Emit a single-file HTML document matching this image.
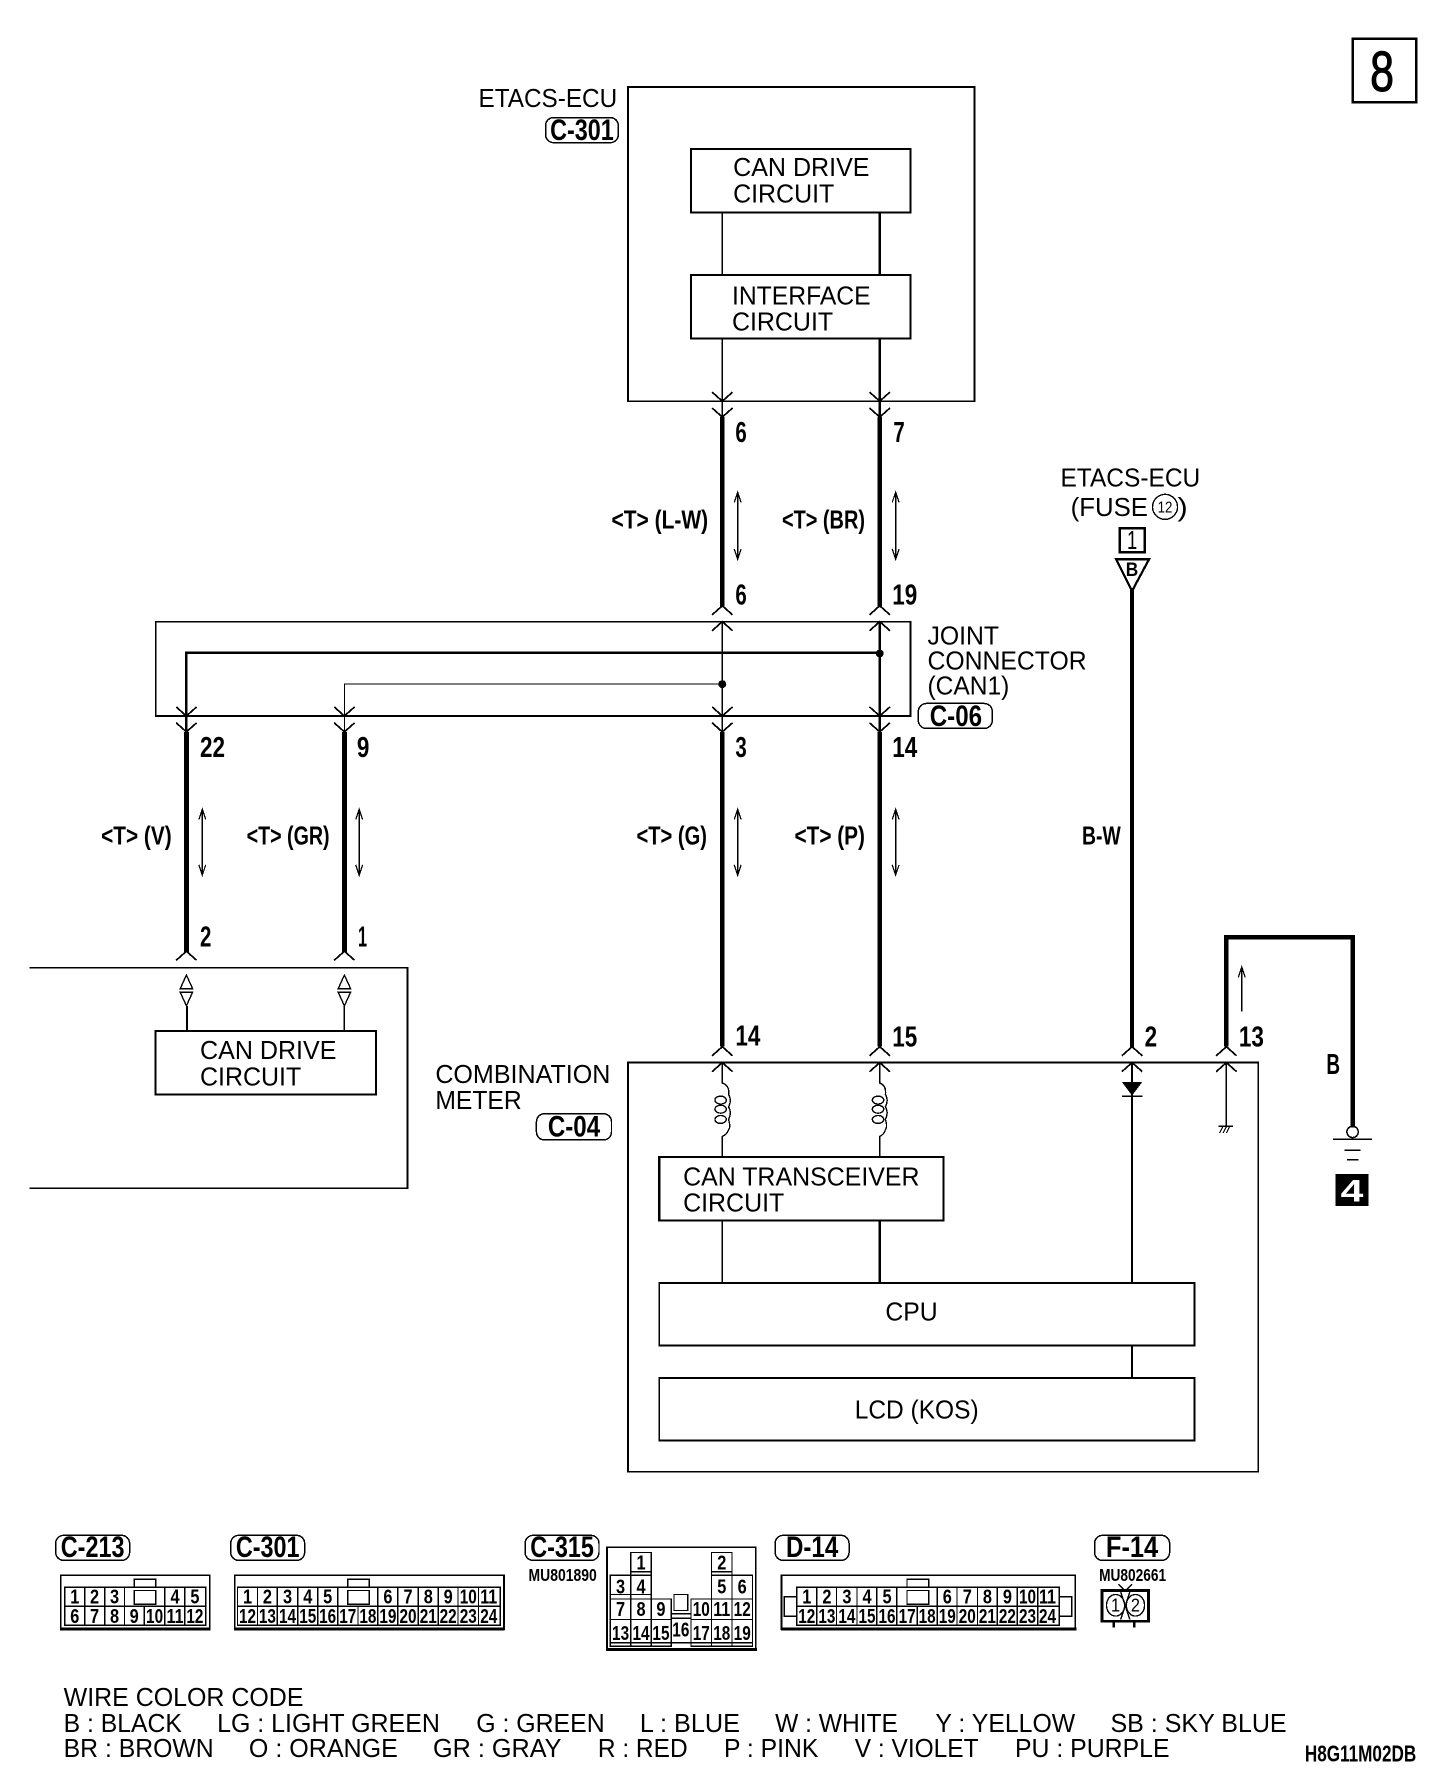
<!DOCTYPE html>
<html><head><meta charset="utf-8"><title>Wiring diagram</title>
<style>
html,body{margin:0;padding:0;background:#fff}
svg{display:block}
text{font-family:"Liberation Sans",sans-serif;fill:#000;font-size:23px}
.b{font-weight:bold}
.n{font-weight:bold;font-size:18px;text-anchor:middle}
.p{font-weight:bold;font-size:25px;text-anchor:middle}
.t{font-weight:bold;font-size:23px;text-anchor:middle}
.g{font-weight:bold;font-size:26px;text-anchor:middle}
.m{font-weight:bold;font-size:15.500px}
.l{fill:none;stroke:#000}
</style></head><body>
<svg width="1456" height="1782" viewBox="0 0 1281 1568" preserveAspectRatio="none" shape-rendering="crispEdges" xmlns="http://www.w3.org/2000/svg">
<defs>
<polyline id="v" points="-9,-8 0,0 9,-8" fill="none" stroke="#000" stroke-width="1.5"/>
<polyline id="a" points="-9,8 0,0 9,8" fill="none" stroke="#000" stroke-width="1.5"/>
</defs>
<rect width="1281" height="1568" fill="#fff"/>

<!-- page number -->
<rect class="l" x="1190" y="34" width="56" height="56" stroke-width="2.200"/>
<text x="1216" y="80" style="font-size:50px;text-anchor:middle;stroke:#000;stroke-width:0.900px" textLength="21" lengthAdjust="spacingAndGlyphs">8</text>

<!-- ETACS-ECU -->
<rect class="l" x="552.500" y="76.500" width="305" height="276.500" stroke-width="1.600"/>
<text x="421" y="94" textLength="122" lengthAdjust="spacingAndGlyphs">ETACS-ECU</text>
<rect class="l" x="480" y="103.500" width="64" height="22" rx="7" stroke-width="1.300"/>
<text x="512" y="123" class="g" textLength="56" lengthAdjust="spacingAndGlyphs">C-301</text>
<rect class="l" x="608" y="131" width="193" height="56" stroke-width="1.800"/>
<text x="645" y="155" textLength="120" lengthAdjust="spacingAndGlyphs">CAN DRIVE</text>
<text x="645" y="178" textLength="89" lengthAdjust="spacingAndGlyphs">CIRCUIT</text>
<rect class="l" x="608" y="242" width="193" height="56" stroke-width="1.800"/>
<text x="644" y="268" textLength="122" lengthAdjust="spacingAndGlyphs">INTERFACE</text>
<text x="644" y="291" textLength="89" lengthAdjust="spacingAndGlyphs">CIRCUIT</text>
<path class="l" stroke-width="1" d="M635.500 187V242M635.500 298V368"/>
<path class="l" stroke-width="1.800" d="M774 187V242M774 298V368"/>
<use href="#v" x="635.500" y="353"/><use href="#v" x="635.500" y="367"/>
<use href="#v" x="774" y="353"/><use href="#v" x="774" y="367"/>

<!-- upper wires -->
<path class="l" stroke-width="4.200" d="M635.500 367V534M774 367V534"/>
<use href="#a" x="635.500" y="533"/><use href="#a" x="635.500" y="547"/>
<use href="#a" x="774" y="533"/><use href="#a" x="774" y="547"/>
<text class="p" x="652" y="389" textLength="10" lengthAdjust="spacingAndGlyphs">6</text>
<text class="p" x="791" y="389" textLength="10" lengthAdjust="spacingAndGlyphs">7</text>
<text class="p" x="652" y="532" textLength="10" lengthAdjust="spacingAndGlyphs">6</text>
<text class="p" x="796" y="532" textLength="22" lengthAdjust="spacingAndGlyphs">19</text>
<text class="t" x="580.500" y="465" textLength="85" lengthAdjust="spacingAndGlyphs">&lt;T&gt; (L-W)</text>
<text class="t" x="724.500" y="465" textLength="73" lengthAdjust="spacingAndGlyphs">&lt;T&gt; (BR)</text>
<path class="l" stroke-width="1.100" d="M649 433V492M646 442L649 433L652 442M646 483L649 492L652 483M788 433V492M785 442L788 433L791 442M785 483L788 492L791 483"/>

<!-- joint connector -->
<rect class="l" x="137" y="547" width="664" height="83" stroke-width="1.500"/>
<path class="l" stroke-width="1.100" d="M635.500 547V644"/>
<path class="l" stroke-width="1.800" d="M774 547V644"/>
<path class="l" stroke-width="2.200" d="M774 574.500H164V644"/>
<path class="l" stroke-width="1" d="M635.500 602H303V644"/>
<circle cx="774" cy="575" r="3.500"/><circle cx="635.500" cy="602" r="3.500"/>
<use href="#v" x="164" y="630"/><use href="#v" x="164" y="644"/>
<use href="#v" x="303" y="630"/><use href="#v" x="303" y="644"/>
<use href="#v" x="635.500" y="630"/><use href="#v" x="635.500" y="644"/>
<use href="#v" x="774" y="630"/><use href="#v" x="774" y="644"/>
<text x="816" y="567" textLength="63" lengthAdjust="spacingAndGlyphs">JOINT</text>
<text x="816" y="589" textLength="140" lengthAdjust="spacingAndGlyphs">CONNECTOR</text>
<text x="816" y="611" textLength="72" lengthAdjust="spacingAndGlyphs">(CAN1)</text>
<rect class="l" x="808" y="619" width="65" height="22" rx="7" stroke-width="1.300"/>
<text x="841" y="639" class="g" textLength="46" lengthAdjust="spacingAndGlyphs">C-06</text>

<!-- fuse -->
<text x="933" y="428" textLength="123" lengthAdjust="spacingAndGlyphs">ETACS-ECU</text>
<text x="942" y="454" textLength="68" lengthAdjust="spacingAndGlyphs">(FUSE</text>
<circle class="l" cx="1025" cy="446" r="11" stroke-width="1.200"/>
<text x="1025" y="451" style="font-size:14px;text-anchor:middle" textLength="13" lengthAdjust="spacingAndGlyphs">12</text>
<text x="1036" y="454" textLength="9" lengthAdjust="spacingAndGlyphs">)</text>
<rect class="l" x="985" y="465" width="22" height="21" stroke-width="2.200"/>
<text x="996" y="483" style="font-size:23px;text-anchor:middle" textLength="9" lengthAdjust="spacingAndGlyphs">1</text>
<path class="l" stroke-width="2" d="M982 492H1011L996 520Z"/>
<text x="996" y="507" class="b" style="font-size:17px;text-anchor:middle" textLength="11" lengthAdjust="spacingAndGlyphs">B</text>
<path class="l" stroke-width="3.600" d="M996 519V922"/>
<text class="t" x="969" y="743" textLength="34" lengthAdjust="spacingAndGlyphs">B-W</text>

<!-- middle wires -->
<path class="l" stroke-width="4.200" d="M164 644V838M303 644V838M635.500 644V921M774 644V921"/>
<text class="p" x="187" y="666" textLength="22" lengthAdjust="spacingAndGlyphs">22</text>
<text class="p" x="319.500" y="666" textLength="11" lengthAdjust="spacingAndGlyphs">9</text>
<text class="p" x="652" y="666" textLength="10" lengthAdjust="spacingAndGlyphs">3</text>
<text class="p" x="796" y="666" textLength="22" lengthAdjust="spacingAndGlyphs">14</text>
<text class="t" x="120" y="743" textLength="62" lengthAdjust="spacingAndGlyphs">&lt;T&gt; (V)</text>
<text class="t" x="253.500" y="743" textLength="73" lengthAdjust="spacingAndGlyphs">&lt;T&gt; (GR)</text>
<text class="t" x="591" y="743" textLength="62" lengthAdjust="spacingAndGlyphs">&lt;T&gt; (G)</text>
<text class="t" x="730" y="743" textLength="62" lengthAdjust="spacingAndGlyphs">&lt;T&gt; (P)</text>
<path class="l" stroke-width="1.100" d="M178 712V770M175 721L178 712L181 721M175 761L178 770L181 761M316 712V770M313 721L316 712L319 721M313 761L316 770L319 761M649 712V770M646 721L649 712L652 721M646 761L649 770L652 761M788 712V770M785 721L788 712L791 721M785 761L788 770L791 761"/>
<text class="p" x="181" y="833" textLength="10" lengthAdjust="spacingAndGlyphs">2</text>
<text class="p" x="319" y="833" textLength="8" lengthAdjust="spacingAndGlyphs">1</text>
<use href="#a" x="164" y="837"/><use href="#a" x="303" y="837"/>

<!-- left unit -->
<path class="l" stroke-width="1.600" d="M26 851.500H358.500V1045.500H26"/>
<path class="l" stroke-width="1.200" d="M164 858L158.500 870H169.500ZM158.500 873H169.500L164 885ZM303 858L297.500 870H308.500ZM297.500 873H308.500L303 885Z"/>
<path class="l" stroke-width="1.800" d="M164.500 885V907"/>
<path class="l" stroke-width="1.200" d="M303 885V907"/>
<rect class="l" x="137" y="907" width="194" height="56" stroke-width="1.800"/>
<text x="176" y="932" textLength="120" lengthAdjust="spacingAndGlyphs">CAN DRIVE</text>
<text x="176" y="955" textLength="89" lengthAdjust="spacingAndGlyphs">CIRCUIT</text>

<!-- combination meter -->
<rect class="l" x="552.500" y="935" width="554.500" height="360" stroke-width="1.600"/>
<text x="383" y="953" textLength="154" lengthAdjust="spacingAndGlyphs">COMBINATION</text>
<text x="383" y="976" textLength="76" lengthAdjust="spacingAndGlyphs">METER</text>
<rect class="l" x="472" y="980" width="66" height="23" rx="7" stroke-width="1.300"/>
<text x="505" y="1000" class="g" textLength="46" lengthAdjust="spacingAndGlyphs">C-04</text>
<text class="p" x="658" y="920" textLength="22" lengthAdjust="spacingAndGlyphs">14</text>
<text class="p" x="796" y="921" textLength="22" lengthAdjust="spacingAndGlyphs">15</text>
<text class="p" x="1012.500" y="921" textLength="11" lengthAdjust="spacingAndGlyphs">2</text>
<text class="p" x="1101" y="921" textLength="22" lengthAdjust="spacingAndGlyphs">13</text>
<use href="#a" x="635.500" y="921"/><use href="#a" x="635.500" y="935"/>
<use href="#a" x="774" y="921"/><use href="#a" x="774" y="935"/>
<use href="#a" x="996" y="921"/><use href="#a" x="996" y="935"/>
<use href="#a" x="1079" y="921"/><use href="#a" x="1079" y="935"/>

<!-- coils -->
<g stroke-width="1.200" fill="none">
<path class="l" d="M635.500 935V953Q642 955 641 963Q644 968 641 974Q644 979 641 985Q643 992 641 994Q640 998 635.500 1000V1018"/>
<ellipse class="l" cx="634" cy="968" rx="5" ry="3.500"/><ellipse class="l" cx="634" cy="976" rx="5" ry="3.500"/><ellipse class="l" cx="634" cy="985" rx="5" ry="3.500"/>
<path class="l" d="M774 935V953Q780 955 779 963Q782 968 779 974Q782 979 779 985Q781 992 779 994Q778 998 774 1000V1018"/>
<ellipse class="l" cx="772.500" cy="968" rx="5" ry="3.500"/><ellipse class="l" cx="772.500" cy="976" rx="5" ry="3.500"/><ellipse class="l" cx="772.500" cy="985" rx="5" ry="3.500"/>
</g>
<!-- diode + ground -->
<path d="M987 952H1005L996 964Z"/>
<path class="l" stroke-width="1.300" d="M987 964.500H1005M1079 935V992"/>
<path class="l" stroke-width="1.800" d="M996 935V1129"/>
<path class="l" stroke-width="1" d="M1072 991H1085M1073 997L1076 991M1076 997L1079 991M1079 997L1082 991"/>
<path class="l" stroke-width="4" stroke-linejoin="miter" d="M1079 921V824.500H1190V992"/>
<path class="l" stroke-width="1.100" d="M1092.500 851V890M1089.500 860L1092.500 851L1095.500 860"/>
<text class="p" x="1173" y="945" textLength="12" lengthAdjust="spacingAndGlyphs">B</text>
<circle class="l" cx="1190" cy="996" r="5" stroke-width="1.300"/>
<path class="l" stroke-width="1.500" d="M1173 1002.500H1207M1183 1012H1197M1185 1020.500H1195"/>
<rect x="1175" y="1033" width="29" height="28"/>
<text x="1189.500" y="1057" class="b" style="fill:#fff;font-size:28px;text-anchor:middle" textLength="20" lengthAdjust="spacingAndGlyphs">4</text>

<!-- CAN transceiver / CPU / LCD -->
<rect class="l" x="580" y="1018" width="250" height="56" stroke-width="1.800"/>
<text x="601" y="1043" textLength="208" lengthAdjust="spacingAndGlyphs">CAN TRANSCEIVER</text>
<text x="601" y="1066" textLength="89" lengthAdjust="spacingAndGlyphs">CIRCUIT</text>
<path class="l" stroke-width="1.200" d="M635.500 1074V1129"/>
<path class="l" stroke-width="1.800" d="M774 1074V1129M996 1184V1212"/>
<rect class="l" x="580" y="1129" width="471" height="55" stroke-width="1.600"/>
<text x="779" y="1162" textLength="46" lengthAdjust="spacingAndGlyphs">CPU</text>
<rect class="l" x="580" y="1212.500" width="471" height="55" stroke-width="1.600"/>
<text x="752" y="1248" textLength="109" lengthAdjust="spacingAndGlyphs">LCD (KOS)</text>

<!-- connector tags -->
<rect class="l" x="49" y="1351" width="65" height="22" rx="7" stroke-width="1.300"/>
<text x="81.500" y="1370" class="g" textLength="56" lengthAdjust="spacingAndGlyphs">C-213</text>
<rect class="l" x="203" y="1351" width="65" height="22" rx="7" stroke-width="1.300"/>
<text x="235.500" y="1370" class="g" textLength="56" lengthAdjust="spacingAndGlyphs">C-301</text>
<rect class="l" x="462" y="1351" width="65" height="22" rx="7" stroke-width="1.300"/>
<text x="494.500" y="1370" class="g" textLength="56" lengthAdjust="spacingAndGlyphs">C-315</text>
<rect class="l" x="682" y="1351" width="65" height="22" rx="7" stroke-width="1.300"/>
<text x="714.500" y="1370" class="g" textLength="46" lengthAdjust="spacingAndGlyphs">D-14</text>
<rect class="l" x="963" y="1351" width="66" height="22" rx="7" stroke-width="1.300"/>
<text x="996" y="1370" class="g" textLength="46" lengthAdjust="spacingAndGlyphs">F-14</text>
<text x="465" y="1391" class="m" textLength="60" lengthAdjust="spacingAndGlyphs">MU801890</text>
<text x="967" y="1391" class="m" textLength="59" lengthAdjust="spacingAndGlyphs">MU802661</text>

<!-- C-213 -->
<rect class="l" x="53.500" y="1386" width="131" height="47.500" stroke-width="1.500"/>
<path class="l" stroke-width="2.600" d="M53 1433.500H185"/>
<path class="l" stroke-width="1.200" d="M57 1396.500H181V1430H57ZM57 1413.500H181M74.500 1396.500V1430M92 1396.500V1430M109.500 1396.500V1430M127 1413.500V1430M145 1396.500V1430M162.500 1396.500V1430M118 1396.500V1389.500H137V1396.500"/>
<rect class="l" x="118" y="1399.500" width="19" height="12" stroke-width="1.200"/>
<g>
<text class="n" x="65.800" y="1411" textLength="8" lengthAdjust="spacingAndGlyphs">1</text><text class="n" x="83.200" y="1411" textLength="8" lengthAdjust="spacingAndGlyphs">2</text><text class="n" x="100.800" y="1411" textLength="8" lengthAdjust="spacingAndGlyphs">3</text><text class="n" x="154" y="1411" textLength="8" lengthAdjust="spacingAndGlyphs">4</text><text class="n" x="171.500" y="1411" textLength="8" lengthAdjust="spacingAndGlyphs">5</text>
<text class="n" x="65.800" y="1428" textLength="8" lengthAdjust="spacingAndGlyphs">6</text><text class="n" x="83.200" y="1428" textLength="8" lengthAdjust="spacingAndGlyphs">7</text><text class="n" x="100.800" y="1428" textLength="8" lengthAdjust="spacingAndGlyphs">8</text><text class="n" x="118" y="1428" textLength="8" lengthAdjust="spacingAndGlyphs">9</text>
<text class="n" x="136" y="1428" textLength="15" lengthAdjust="spacingAndGlyphs">10</text><text class="n" x="154" y="1428" textLength="15" lengthAdjust="spacingAndGlyphs">11</text><text class="n" x="171.500" y="1428" textLength="15" lengthAdjust="spacingAndGlyphs">12</text>
</g>

<!-- C-301 -->
<rect class="l" x="206.500" y="1386" width="237" height="47.500" stroke-width="1.500"/>
<path class="l" stroke-width="2.600" d="M206 1433.500H444"/>
<path class="l" stroke-width="1.200" d="M209 1396.500H440V1430H209ZM209 1413.500H440M226.500 1396.500V1430M244 1396.500V1430M262 1396.500V1430M279.500 1396.500V1430M297 1396.500V1430M315 1413.500V1430M332.500 1396.500V1430M350 1396.500V1430M368 1396.500V1430M385.500 1396.500V1430M403 1396.500V1430M421 1396.500V1430M306 1396.500V1389.500H325V1396.500"/>
<rect class="l" x="306" y="1399.500" width="19" height="12" stroke-width="1.200"/>
<g>
<text class="n" x="217.800" y="1411" textLength="8" lengthAdjust="spacingAndGlyphs">1</text><text class="n" x="235.300" y="1411" textLength="8" lengthAdjust="spacingAndGlyphs">2</text><text class="n" x="253" y="1411" textLength="8" lengthAdjust="spacingAndGlyphs">3</text><text class="n" x="270.800" y="1411" textLength="8" lengthAdjust="spacingAndGlyphs">4</text><text class="n" x="288.300" y="1411" textLength="8" lengthAdjust="spacingAndGlyphs">5</text>
<text class="n" x="341.300" y="1411" textLength="8" lengthAdjust="spacingAndGlyphs">6</text><text class="n" x="359" y="1411" textLength="8" lengthAdjust="spacingAndGlyphs">7</text><text class="n" x="376.800" y="1411" textLength="8" lengthAdjust="spacingAndGlyphs">8</text><text class="n" x="394.300" y="1411" textLength="8" lengthAdjust="spacingAndGlyphs">9</text>
<text class="n" x="412" y="1411" textLength="15" lengthAdjust="spacingAndGlyphs">10</text><text class="n" x="430" y="1411" textLength="15" lengthAdjust="spacingAndGlyphs">11</text>
<text class="n" x="217.800" y="1428" textLength="15" lengthAdjust="spacingAndGlyphs">12</text><text class="n" x="235.300" y="1428" textLength="15" lengthAdjust="spacingAndGlyphs">13</text><text class="n" x="253" y="1428" textLength="15" lengthAdjust="spacingAndGlyphs">14</text><text class="n" x="270.800" y="1428" textLength="15" lengthAdjust="spacingAndGlyphs">15</text><text class="n" x="288.300" y="1428" textLength="15" lengthAdjust="spacingAndGlyphs">16</text><text class="n" x="306" y="1428" textLength="15" lengthAdjust="spacingAndGlyphs">17</text><text class="n" x="323.700" y="1428" textLength="15" lengthAdjust="spacingAndGlyphs">18</text><text class="n" x="341.300" y="1428" textLength="15" lengthAdjust="spacingAndGlyphs">19</text><text class="n" x="359" y="1428" textLength="15" lengthAdjust="spacingAndGlyphs">20</text><text class="n" x="376.800" y="1428" textLength="15" lengthAdjust="spacingAndGlyphs">21</text><text class="n" x="394.300" y="1428" textLength="15" lengthAdjust="spacingAndGlyphs">22</text><text class="n" x="412" y="1428" textLength="15" lengthAdjust="spacingAndGlyphs">23</text><text class="n" x="430" y="1428" textLength="15" lengthAdjust="spacingAndGlyphs">24</text>
</g>

<!-- C-315 -->
<rect class="l" x="534" y="1361.500" width="131" height="90" stroke-width="1.500"/>
<path class="l" stroke-width="2.600" d="M533 1451.500H666"/>
<path class="l" stroke-width="1.100" d="M555 1366H573V1386H555ZM555 1383H573M537 1386H573V1407H537ZM537 1403H573M555 1386V1407M537 1407H590.500V1448.500H537ZM537 1425H590.500M537 1445.500H662M555 1407V1448.500M573 1407V1448.500M590.500 1425V1448.500"/>
<path class="l" stroke-width="1.100" d="M626 1366H644V1386H626ZM626 1383H644M626 1386H662V1407H626ZM644 1386V1407M608 1407H662V1448.500H608ZM608 1425H662M626 1407V1448.500M644 1407V1448.500M590.500 1420H608V1448.500M608 1424H590.500"/>
<rect class="l" x="593" y="1403" width="12" height="14" stroke-width="1.100"/>
<g>
<text class="n" x="564" y="1381" textLength="8" lengthAdjust="spacingAndGlyphs">1</text><text class="n" x="635" y="1381" textLength="8" lengthAdjust="spacingAndGlyphs">2</text>
<text class="n" x="546" y="1402" textLength="8" lengthAdjust="spacingAndGlyphs">3</text><text class="n" x="564" y="1402" textLength="8" lengthAdjust="spacingAndGlyphs">4</text><text class="n" x="635" y="1402" textLength="8" lengthAdjust="spacingAndGlyphs">5</text><text class="n" x="653" y="1402" textLength="8" lengthAdjust="spacingAndGlyphs">6</text>
<text class="n" x="546" y="1422" textLength="8" lengthAdjust="spacingAndGlyphs">7</text><text class="n" x="564" y="1422" textLength="8" lengthAdjust="spacingAndGlyphs">8</text><text class="n" x="581.500" y="1422" textLength="8" lengthAdjust="spacingAndGlyphs">9</text>
<text class="n" x="617" y="1422" textLength="15" lengthAdjust="spacingAndGlyphs">10</text><text class="n" x="635" y="1422" textLength="15" lengthAdjust="spacingAndGlyphs">11</text><text class="n" x="653" y="1422" textLength="15" lengthAdjust="spacingAndGlyphs">12</text>
<text class="n" x="546" y="1443" textLength="15" lengthAdjust="spacingAndGlyphs">13</text><text class="n" x="564" y="1443" textLength="15" lengthAdjust="spacingAndGlyphs">14</text><text class="n" x="581.500" y="1443" textLength="15" lengthAdjust="spacingAndGlyphs">15</text><text class="n" x="599" y="1440" textLength="15" lengthAdjust="spacingAndGlyphs">16</text><text class="n" x="617" y="1443" textLength="15" lengthAdjust="spacingAndGlyphs">17</text><text class="n" x="635" y="1443" textLength="15" lengthAdjust="spacingAndGlyphs">18</text><text class="n" x="653" y="1443" textLength="15" lengthAdjust="spacingAndGlyphs">19</text>
</g>

<!-- D-14 -->
<rect class="l" x="687.500" y="1386" width="258.500" height="47.500" stroke-width="1.500"/>
<path class="l" stroke-width="2.600" d="M687 1433.500H947"/>
<path class="l" stroke-width="1.200" d="M701 1396.500H932V1430H701ZM701 1413.500H932M718.500 1396.500V1430M736 1396.500V1430M754 1396.500V1430M771.500 1396.500V1430M789 1396.500V1430M807 1413.500V1430M824.500 1396.500V1430M842 1396.500V1430M860 1396.500V1430M877.500 1396.500V1430M895 1396.500V1430M913 1396.500V1430M798 1396.500V1389.500H817V1396.500M701 1405H690V1422H701M932 1405H943V1422H932"/>
<rect class="l" x="798" y="1399.500" width="19" height="12" stroke-width="1.200"/>
<g>
<text class="n" x="709.800" y="1411" textLength="8" lengthAdjust="spacingAndGlyphs">1</text><text class="n" x="727.500" y="1411" textLength="8" lengthAdjust="spacingAndGlyphs">2</text><text class="n" x="745.100" y="1411" textLength="8" lengthAdjust="spacingAndGlyphs">3</text><text class="n" x="762.800" y="1411" textLength="8" lengthAdjust="spacingAndGlyphs">4</text><text class="n" x="780.400" y="1411" textLength="8" lengthAdjust="spacingAndGlyphs">5</text>
<text class="n" x="833.400" y="1411" textLength="8" lengthAdjust="spacingAndGlyphs">6</text><text class="n" x="851" y="1411" textLength="8" lengthAdjust="spacingAndGlyphs">7</text><text class="n" x="868.700" y="1411" textLength="8" lengthAdjust="spacingAndGlyphs">8</text><text class="n" x="886.300" y="1411" textLength="8" lengthAdjust="spacingAndGlyphs">9</text>
<text class="n" x="904" y="1411" textLength="15" lengthAdjust="spacingAndGlyphs">10</text><text class="n" x="921.600" y="1411" textLength="15" lengthAdjust="spacingAndGlyphs">11</text>
<text class="n" x="709.800" y="1428" textLength="15" lengthAdjust="spacingAndGlyphs">12</text><text class="n" x="727.500" y="1428" textLength="15" lengthAdjust="spacingAndGlyphs">13</text><text class="n" x="745.100" y="1428" textLength="15" lengthAdjust="spacingAndGlyphs">14</text><text class="n" x="762.800" y="1428" textLength="15" lengthAdjust="spacingAndGlyphs">15</text><text class="n" x="780.400" y="1428" textLength="15" lengthAdjust="spacingAndGlyphs">16</text><text class="n" x="798.100" y="1428" textLength="15" lengthAdjust="spacingAndGlyphs">17</text><text class="n" x="815.700" y="1428" textLength="15" lengthAdjust="spacingAndGlyphs">18</text><text class="n" x="833.400" y="1428" textLength="15" lengthAdjust="spacingAndGlyphs">19</text><text class="n" x="851" y="1428" textLength="15" lengthAdjust="spacingAndGlyphs">20</text><text class="n" x="868.700" y="1428" textLength="15" lengthAdjust="spacingAndGlyphs">21</text><text class="n" x="886.300" y="1428" textLength="15" lengthAdjust="spacingAndGlyphs">22</text><text class="n" x="904" y="1428" textLength="15" lengthAdjust="spacingAndGlyphs">23</text><text class="n" x="921.600" y="1428" textLength="15" lengthAdjust="spacingAndGlyphs">24</text>
</g>

<!-- F-14 -->
<rect class="l" x="969.500" y="1399.500" width="41" height="27" stroke-width="2.400"/>
<ellipse class="l" cx="981.500" cy="1412.500" rx="8" ry="9.500" stroke-width="1.200"/>
<ellipse class="l" cx="999" cy="1412.500" rx="8" ry="9.500" stroke-width="1.200"/>
<path class="l" stroke-width="1.200" d="M984 1394L990 1400L996 1394M986 1401L994 1425M994 1401L986 1425"/>
<path class="l" stroke-width="2" d="M980 1426.500V1432M998 1426.500V1432"/>
<text x="981.500" y="1418" style="font-size:16px;text-anchor:middle" textLength="8" lengthAdjust="spacingAndGlyphs">1</text><text x="999" y="1418" style="font-size:16px;text-anchor:middle" textLength="8" lengthAdjust="spacingAndGlyphs">2</text>

<!-- legend -->
<text x="56" y="1501" textLength="211" lengthAdjust="spacingAndGlyphs">WIRE COLOR CODE</text>
<text x="56" y="1524" textLength="104" lengthAdjust="spacingAndGlyphs">B : BLACK</text>
<text x="191" y="1524" textLength="196" lengthAdjust="spacingAndGlyphs">LG : LIGHT GREEN</text>
<text x="419" y="1524" textLength="113" lengthAdjust="spacingAndGlyphs">G : GREEN</text>
<text x="563" y="1524" textLength="88" lengthAdjust="spacingAndGlyphs">L : BLUE</text>
<text x="682" y="1524" textLength="108" lengthAdjust="spacingAndGlyphs">W : WHITE</text>
<text x="823" y="1524" textLength="123" lengthAdjust="spacingAndGlyphs">Y : YELLOW</text>
<text x="977" y="1524" textLength="155" lengthAdjust="spacingAndGlyphs">SB : SKY BLUE</text>
<text x="56" y="1546" textLength="132" lengthAdjust="spacingAndGlyphs">BR : BROWN</text>
<text x="219" y="1546" textLength="131" lengthAdjust="spacingAndGlyphs">O : ORANGE</text>
<text x="381" y="1546" textLength="113" lengthAdjust="spacingAndGlyphs">GR : GRAY</text>
<text x="526" y="1546" textLength="79" lengthAdjust="spacingAndGlyphs">R : RED</text>
<text x="637" y="1546" textLength="83" lengthAdjust="spacingAndGlyphs">P : PINK</text>
<text x="752" y="1546" textLength="109" lengthAdjust="spacingAndGlyphs">V : VIOLET</text>
<text x="893" y="1546" textLength="136" lengthAdjust="spacingAndGlyphs">PU : PURPLE</text>
<text x="1148" y="1550" class="b" style="font-size:20px" textLength="98" lengthAdjust="spacingAndGlyphs">H8G11M02DB</text>
</svg>
</body></html>
